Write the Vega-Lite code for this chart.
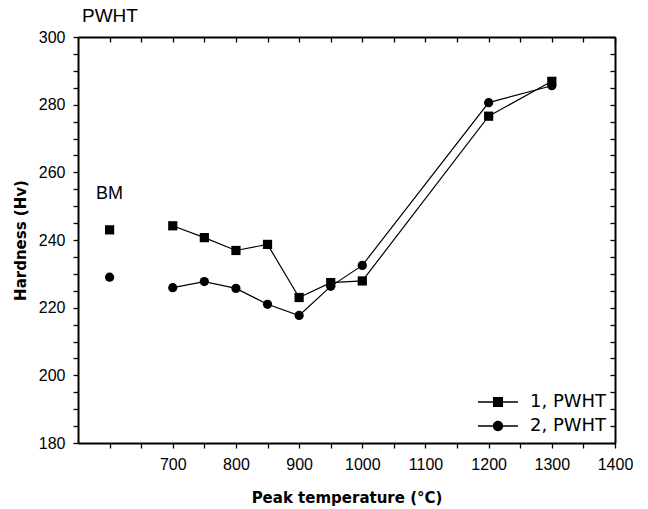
{
  "$schema": "https://vega.github.io/schema/vega-lite/v6.json",
  "width": 537,
  "height": 406,
  "autosize": {"type": "none"},
  "padding": {"left": 78, "top": 37, "right": 33, "bottom": 66},
  "background": "white",
  "title": {"text": "PWHT", "anchor": "start", "frame": "group", "font": "Liberation Sans", "fontSize": 19, "fontWeight": "normal", "color": "black", "offset": 3, "dx": 4},
  "config": {
    "view": {"stroke": null},
    "axis": {"domainColor": "black", "tickColor": "black", "labelColor": "black", "titleColor": "black", "labelFont": "Liberation Sans", "titleFont": "DejaVu Sans", "grid": false, "domainWidth": 2, "tickWidth": 1.3}
  },
  "datasets": {
    "pts": [
      {"series": "1, PWHT", "seg": "1bm", "T": 600, "H": 243.0},
      {"series": "1, PWHT", "seg": "1", "T": 700, "H": 244.2},
      {"series": "1, PWHT", "seg": "1", "T": 750, "H": 240.7},
      {"series": "1, PWHT", "seg": "1", "T": 800, "H": 236.9},
      {"series": "1, PWHT", "seg": "1", "T": 850, "H": 238.7},
      {"series": "1, PWHT", "seg": "1", "T": 900, "H": 223.0},
      {"series": "1, PWHT", "seg": "1", "T": 950, "H": 227.4},
      {"series": "1, PWHT", "seg": "1", "T": 1000, "H": 227.9},
      {"series": "1, PWHT", "seg": "1", "T": 1200, "H": 276.6},
      {"series": "1, PWHT", "seg": "1", "T": 1300, "H": 286.9},
      {"series": "2, PWHT", "seg": "2bm", "T": 600, "H": 229.0},
      {"series": "2, PWHT", "seg": "2", "T": 700, "H": 225.9},
      {"series": "2, PWHT", "seg": "2", "T": 750, "H": 227.7},
      {"series": "2, PWHT", "seg": "2", "T": 800, "H": 225.7},
      {"series": "2, PWHT", "seg": "2", "T": 850, "H": 221.0},
      {"series": "2, PWHT", "seg": "2", "T": 900, "H": 217.7},
      {"series": "2, PWHT", "seg": "2", "T": 950, "H": 226.3},
      {"series": "2, PWHT", "seg": "2", "T": 1000, "H": 232.5},
      {"series": "2, PWHT", "seg": "2", "T": 1200, "H": 280.6},
      {"series": "2, PWHT", "seg": "2", "T": 1300, "H": 285.6}
    ]
  },
  "data": {"name": "pts"},
  "layer": [
    {
      "mark": {"type": "line", "color": "black", "strokeWidth": 1.2},
      "encoding": {
        "x": {"field": "T", "type": "quantitative", "scale": {"domain": [550, 1400], "nice": false, "zero": false},
          "axis": {"orient": "bottom", "title": "Peak temperature (°C)", "format": "d", "values": [600, 650, 700, 750, 800, 850, 900, 950, 1000, 1050, 1100, 1150, 1200, 1250, 1300, 1350, 1400],
            "labelExpr": "datum.value % 100 == 0 && datum.value != 600 ? datum.label : ''", "labelFontSize": 16, "labelPadding": 8, "tickSize": 5, "titleFontSize": 15, "titleFontWeight": "bold", "titlePadding": 18, "labelFlush": false}},
        "y": {"field": "H", "type": "quantitative", "scale": {"domain": [180, 300], "nice": false, "zero": false},
          "axis": {"orient": "left", "title": "Hardness (Hv)", "values": [180, 185, 190, 195, 200, 205, 210, 215, 220, 225, 230, 235, 240, 245, 250, 255, 260, 265, 270, 275, 280, 285, 290, 295, 300],
            "labelExpr": "datum.value % 20 == 0 ? datum.label : ''", "labelFontSize": 16, "labelPadding": 8, "tickSize": 5, "titleFontSize": 15, "titleFontWeight": "bold", "titlePadding": 10}},
        "detail": {"field": "seg"}
      }
    },
    {
      "transform": [{"filter": "datum.series === '1, PWHT'"}],
      "mark": {"type": "point", "shape": "square", "filled": true, "opacity": 1, "color": "black", "size": 85},
      "encoding": {
        "x": {"field": "T", "type": "quantitative",
          "axis": {"orient": "top", "title": null, "labels": false, "tickSize": -5, "values": [600, 650, 700, 750, 800, 850, 900, 950, 1000, 1050, 1100, 1150, 1200, 1250, 1300, 1350, 1400]}},
        "y": {"field": "H", "type": "quantitative",
          "axis": {"orient": "right", "title": null, "labels": false, "tickSize": -5, "values": [180, 185, 190, 195, 200, 205, 210, 215, 220, 225, 230, 235, 240, 245, 250, 255, 260, 265, 270, 275, 280, 285, 290, 295, 300]}}
      }
    },
    {
      "transform": [{"filter": "datum.series === '2, PWHT'"}],
      "mark": {"type": "point", "shape": "circle", "filled": true, "opacity": 1, "color": "black", "size": 85},
      "encoding": {
        "x": {"field": "T", "type": "quantitative", "axis": null},
        "y": {"field": "H", "type": "quantitative", "axis": null}
      }
    },
    {
      "transform": [{"filter": "false"}],
      "mark": {"type": "point", "filled": true, "opacity": 1, "color": "black"},
      "encoding": {
        "x": {"field": "T", "type": "quantitative", "axis": null},
        "y": {"field": "H", "type": "quantitative", "axis": null},
        "shape": {"field": "series", "type": "nominal",
          "scale": {"domain": ["1, PWHT", "2, PWHT"], "range": ["M-1.67,-0.065H1.67V0.065H-1.67ZM-0.42,-0.42H0.42V0.42H-0.42Z", "M-1.67,-0.065H1.67V0.065H-1.67ZM0.43,0A0.43,0.43 0 1,1 -0.43,0A0.43,0.43 0 1,1 0.43,0Z"]},
          "legend": {"title": null, "orient": "bottom-right", "offset": 8, "labelFont": "DejaVu Sans", "labelFontSize": 18, "labelColor": "black", "labelOffset": 19, "rowPadding": 2,
            "symbolSize": 576, "symbolFillColor": "black", "symbolOpacity": 1}}
      }
    },
    {
      "data": {"values": [{"T": 600, "H": 253.6, "label": "BM"}]},
      "mark": {"type": "text", "font": "Liberation Sans", "fontSize": 18, "color": "black"},
      "encoding": {
        "x": {"field": "T", "type": "quantitative", "axis": null},
        "y": {"field": "H", "type": "quantitative", "axis": null},
        "text": {"field": "label"}
      }
    }
  ],
  "resolve": {"axis": {"x": "independent", "y": "independent"}}
}
